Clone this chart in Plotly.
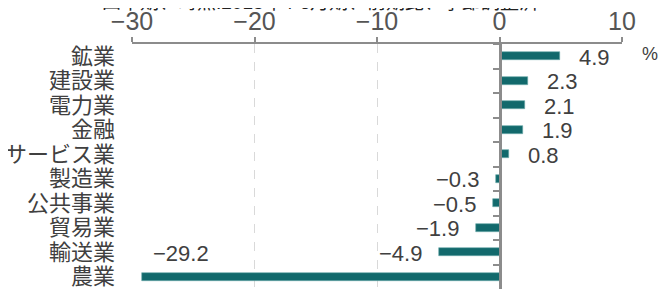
import plotly.graph_objects as go

categories = ["鉱業", "建設業", "電力業", "金融", "サービス業", "製造業", "公共事業", "貿易業", "輸送業", "農業"]
values = [4.9, 2.3, 2.1, 1.9, 0.8, -0.3, -0.5, -1.9, -4.9, -29.2]
x_ticks = [-30, -20, -10, 0, 10]
title_text = "四半期、時点:2015年4-6月期、前期比、季節調整済"
unit_text = "%"

BAR = "#12696c"
AXIS = "#8c8c8c"
GRID = "#d9d9d9"
TXT = "#404040"
FONT = "Liberation Sans, Noto Sans CJK JP, sans-serif"

n = len(categories)
yrange = [n - 0.5, -0.5]

fig = go.Figure()
fig.add_trace(go.Bar(
    x=values, y=categories, orientation="h",
    marker=dict(color=BAR, line=dict(color="#6aa9ab", width=0.6)),
    width=0.34, yaxis="y", hoverinfo="skip",
))
# invisible trace to give the zero-positioned axis its categories
fig.add_trace(go.Scatter(
    x=[0] * n, y=categories, mode="markers",
    marker=dict(opacity=0), yaxis="y2", hoverinfo="skip", showlegend=False,
))

annotations = []
vmin = min(values)
for c, v in zip(categories, values):
    if v == vmin:
        annotations.append(dict(x=v, y=c, xref="x", yref="y", text=f"{v:.1f}".replace("-", "−"),
                                showarrow=False, xanchor="left", yanchor="middle",
                                xshift=9, yshift=23, font=dict(size=22, color=TXT, family=FONT)))
    elif v >= 0:
        annotations.append(dict(x=v, y=c, xref="x", yref="y", text=f"{v:.1f}",
                                showarrow=False, xanchor="left", yanchor="middle",
                                xshift=17, yshift=-1, font=dict(size=22, color=TXT, family=FONT)))
    else:
        annotations.append(dict(x=v, y=c, xref="x", yref="y", text=f"{v:.1f}".replace("-", "−"),
                                showarrow=False, xanchor="right", yanchor="middle",
                                xshift=-15, yshift=-1, font=dict(size=22, color=TXT, family=FONT)))

annotations.append(dict(x=1, y=1, xref="paper", yref="paper", text=unit_text, showarrow=False,
                        xanchor="left", yanchor="top", xshift=18, yshift=2,
                        font=dict(size=18, color=TXT, family=FONT)))
annotations.append(dict(x=0.384, y=1, xref="paper", yref="paper", text=title_text, showarrow=False,
                        xanchor="center", yanchor="bottom", yshift=29,
                        font=dict(size=19, color="#222222", family=FONT)))

fig.update_layout(
    width=670, height=291,
    margin=dict(l=124, r=56, t=36, b=10, autoexpand=False),
    plot_bgcolor="white", paper_bgcolor="white",
    showlegend=False, bargap=0,
    font=dict(family=FONT, color=TXT),
    annotations=annotations,
    xaxis=dict(
        side="top", range=[-30, 10], tickvals=x_ticks,
        ticktext=[str(t).replace("-", "−") for t in x_ticks],
        showgrid=True, gridcolor=GRID, griddash="dash", gridwidth=1,
        zeroline=False, showline=True, linecolor=AXIS, linewidth=2,
        ticks="outside", ticklen=5, tickcolor=AXIS, tickwidth=1.5,
        ticklabelstandoff=-3, automargin=False,
        tickfont=dict(size=25, color="#555555", family=FONT),
    ),
    yaxis=dict(
        type="category", categoryorder="array", categoryarray=categories,
        tickmode="array", tickvals=categories, range=yrange, autorange=False,
        showgrid=False, zeroline=False, showline=False,
        ticks="", ticklabelstandoff=16, automargin=False,
        tickfont=dict(size=22, color=TXT, family=FONT),
    ),
    yaxis2=dict(
        type="category", categoryorder="array", categoryarray=categories,
        range=yrange, autorange=False, overlaying="y", anchor="free", position=0.75,
        side="left", showgrid=False, zeroline=False, showticklabels=False,
        showline=True, linecolor=AXIS, linewidth=2.5, automargin=False,
        ticks="outside", tickson="boundaries", ticklen=6, tickcolor=AXIS, tickwidth=1.5,
    ),
)

fig.write_html("out.html")
